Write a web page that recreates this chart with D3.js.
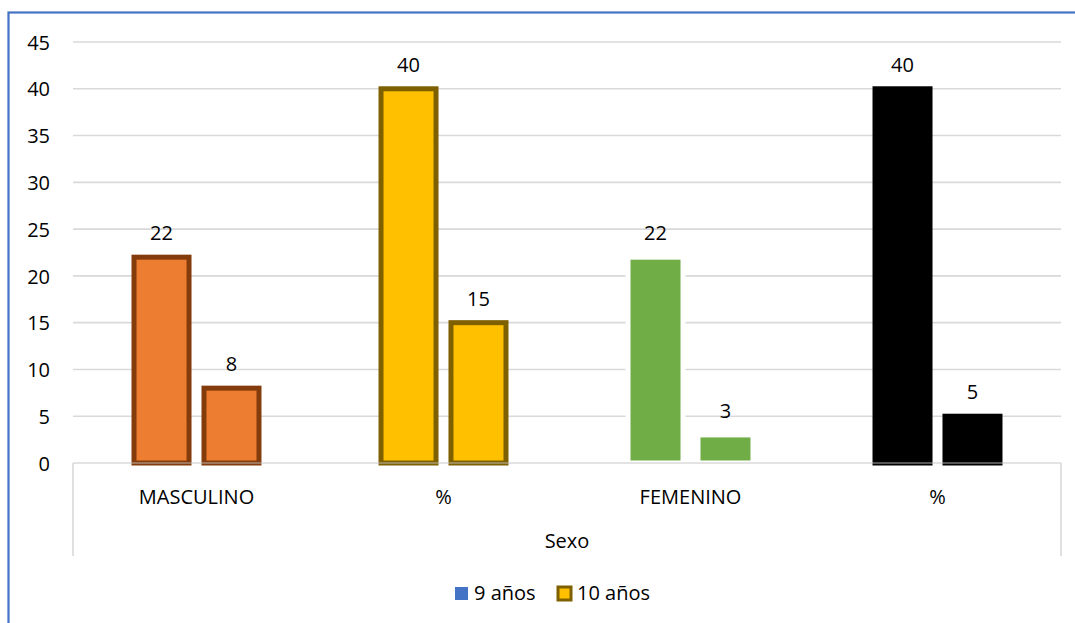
<!DOCTYPE html>
<html>
<head>
<meta charset="utf-8">
<script src="https://cdn.jsdelivr.net/npm/d3@7"></script>
<style>
  html, body { margin: 0; padding: 0; background: #fff; }
  svg { display: block; }
  text { font-family: "Open Sans", "Noto Sans", sans-serif; fill: #000; }
</style>
</head>
<body>
<svg id="chart" width="1075" height="623"></svg>
<script>
// ---- data ----
const categories = ["MASCULINO", "%", "FEMENINO", "%"];
const groupLabel = "Sexo";
const seriesNames = ["9 años", "10 años"];
const values9 = [22, 40, 22, 40];
const values10 = [8, 15, 3, 5];
const yTicks = [0, 5, 10, 15, 20, 25, 30, 35, 40, 45];

// per-category styling (Excel "vary colours by point")
const fills = ["#ED7D31", "#FFC000", "#70AD47", "#000000"];
const strokes = ["#843C0C", "#7F6000", "#FFFFFF", "#000000"];

const svg = d3.select("#chart");
const W = 1075, H = 623;
const plot = { left: 73, right: 1061, top: 42, bottom: 463 };

const x0 = d3.scaleBand().domain(d3.range(categories.length))
  .range([plot.left, plot.right]).paddingInner(0).paddingOuter(0);
const x1 = d3.scaleBand().domain(d3.range(seriesNames.length))
  .range([0, x0.bandwidth()]).paddingInner(0.214).paddingOuter(0.872);
const y = d3.scaleLinear().domain([0, 45]).range([plot.bottom, plot.top]);

// outer border
svg.append("rect").attr("x", 8.5).attr("y", 12.5).attr("width", 1200).attr("height", 800)
  .attr("fill", "none").attr("stroke", "#4472C4").attr("stroke-width", 2.2);

// gridlines
svg.append("g").selectAll("line").data(yTicks.filter(d => d > 0)).join("line")
  .attr("x1", plot.left).attr("x2", plot.right)
  .attr("y1", d => y(d)).attr("y2", d => y(d))
  .attr("stroke", "#d9d9d9").attr("stroke-width", 1.6);

// y axis labels
const yAxis = d3.axisLeft(y).tickValues(yTicks).tickSize(0).tickPadding(0);
const gy = svg.append("g").attr("transform", `translate(50,0)`).call(yAxis);
gy.select(".domain").remove();
gy.selectAll("text").attr("font-size", 20).attr("font-family", "Open Sans").attr("fill", "#000").attr("dy", "0.36em");

// bars
const data = [];
categories.forEach((c, i) => {
  [values9[i], values10[i]].forEach((v, s) => data.push({ i, s, v }));
});
const bars = svg.append("g");
bars.selectAll("rect").data(data).join("rect")
  .attr("x", d => x0(d.i) + x1(d.s))
  .attr("width", x1.bandwidth())
  .attr("y", d => y(d.v))
  .attr("height", d => y(0) - y(d.v))
  .attr("fill", d => fills[d.i])
  .attr("stroke", d => strokes[d.i])
  .attr("stroke-width", 5);

// data labels
svg.append("g").selectAll("text").data(data).join("text")
  .attr("x", d => x0(d.i) + x1(d.s) + x1.bandwidth() / 2)
  .attr("y", d => y(d.v) - 17)
  .attr("text-anchor", "middle")
  .attr("font-size", 20)
  .text(d => d3.format("d")(d.v));

// category axis (baseline + box lines)
svg.append("line").attr("x1", plot.left).attr("x2", plot.right)
  .attr("y1", y(0)).attr("y2", y(0))
  .attr("stroke", "#bfbfbf").attr("stroke-opacity", 0.6).attr("stroke-width", 1.6);
[plot.left, plot.right].forEach(xv => {
  svg.append("line").attr("x1", xv).attr("x2", xv).attr("y1", y(0)).attr("y2", 556)
    .attr("stroke", "#d9d9d9").attr("stroke-width", 1.6);
});

const xAxis = d3.axisBottom(x0).tickFormat(i => categories[i]).tickSize(0).tickPadding(0);
const gx = svg.append("g").attr("transform", `translate(0,497)`).call(xAxis);
gx.select(".domain").remove();
gx.selectAll("text").attr("font-size", 20).attr("font-family", "Open Sans").attr("fill", "#000").attr("dy", "0.36em");

svg.append("text").attr("x", (plot.left + plot.right) / 2).attr("y", 541).attr("dy", "0.36em")
  .attr("text-anchor", "middle").attr("font-size", 20).text(groupLabel);

// legend
const legend = svg.append("g");
const legendItems = [
  { name: seriesNames[0], x: 455, fill: "#4472C4", stroke: "none" },
  { name: seriesNames[1], x: 558, fill: "#FFC000", stroke: "#7F6000" }
];
legendItems.forEach(it => {
  legend.append("rect").attr("x", it.x).attr("y", 587).attr("width", 13).attr("height", 13)
    .attr("fill", it.fill).attr("stroke", it.stroke).attr("stroke-width", 3);
  legend.append("text").attr("x", it.x + 19).attr("y", 593).attr("dy", "0.36em")
    .attr("font-size", 20).text(it.name);
});
</script>
</body>
</html>
